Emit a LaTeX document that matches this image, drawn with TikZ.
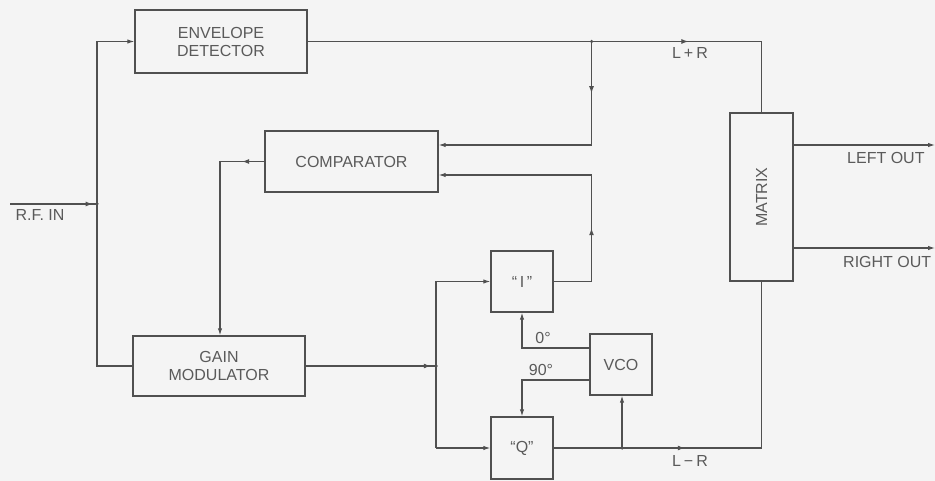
\documentclass[tikz,border=0pt]{standalone}
\usepackage{fontspec}
\setmainfont{Liberation Sans}
\usetikzlibrary{arrows.meta,decorations.markings}
\definecolor{bg}{HTML}{F4F4F4}
\definecolor{ln}{HTML}{505050}
\definecolor{tx}{HTML}{5A5A5A}
\begin{document}
\begin{tikzpicture}[x=1pt,y=-1pt,
  wire/.style={draw=ln,line width=1.1pt},
  tip/.style={-{Latex[length=7pt,width=4.5pt]}},
  blk/.style={draw=ln,line width=1.4pt,inner sep=0pt,text=tx,font=\fontsize{16}{18}\selectfont,align=center},
  lbl/.style={text=tx,font=\fontsize{16}{18}\selectfont,inner sep=0pt},
  midarr/.style={postaction={decorate},decoration={markings,mark=at position #1 with {\arrow{Latex[length=7pt,width=5pt]}}}},
  dot/.style={circle,fill=ln,inner sep=0pt,minimum size=3.5pt}
]
\useasboundingbox (0,0) rectangle (935,481);
\fill[bg] (0,0) rectangle (935,481);

% blocks
\node[blk,minimum width=172pt,minimum height=63pt] (env) at (221,41.5) {ENVELOPE\\DETECTOR};
\node[blk,minimum width=173pt,minimum height=61pt] (comp) at (351.5,161.5) {COMPARATOR};
\node[blk,minimum width=172pt,minimum height=60pt] (gain) at (219,366) {GAIN\\MODULATOR};
\node[blk,minimum width=62pt,minimum height=61pt] (I) at (522,281.5) {“\,I\,”};
\node[blk,minimum width=62pt,minimum height=62pt] (Q) at (522,448) {“Q”};
\node[blk,minimum width=62pt,minimum height=61pt] (vco) at (621,364.5) {VCO};
\node[blk,minimum width=63pt,minimum height=168pt] (mat) at (761.5,197) {};
\node[lbl,rotate=90] (matl) at (mat.center) {MATRIX};

% RF input
\coordinate (rf) at (10,204);
\coordinate (ja) at (97,204);
\coordinate (jt) at (97,41.5);
\coordinate (jb) at (97,366);
\draw[wire,midarr=0.95] (rf) -- (ja);
\draw[wire,tip] (ja) -- (jt) -- (env.west);
\draw[wire] (ja) -- (jb) -- (gain.west);
\node[dot] (dA) at (ja) {};
\node[lbl] (rfl) at (40,215) {R.F. IN};

% comparator -> gain modulator
\coordinate (cg) at (220,161.5);
\draw[wire,midarr=0.5] (comp.west) -- (cg);
\draw[wire,tip] (cg) -- (cg |- gain.north);

% envelope detector output (L+R)
\coordinate (j1) at (591.5,41.5);
\coordinate (k1) at (761.5,41.5);
\draw[wire] (env.east) -- (j1);
\draw[wire,midarr=0.57] (j1) -- (k1);
\draw[wire] (k1) -- (mat.north);
\node[dot] (dB) at (j1) {};
\node[lbl] (lpr) at (690,53) {L\hspace{3pt}+\hspace{3pt}R};
\coordinate (c1) at (591.5,145);
\draw[wire,midarr=0.5] (j1) -- (c1);
\draw[wire,tip] (c1) -- (c1 -| comp.east);

% I output -> comparator
\coordinate (c2) at (591.5,281.5);
\coordinate (c3) at (591.5,175);
\draw[wire] (I.east) -- (c2);
\draw[wire,midarr=0.5] (c2) -- (c3);
\draw[wire,tip] (c3) -- (c3 -| comp.east);

% gain modulator output -> I, Q
\coordinate (j2) at (436,366);
\coordinate (ji) at (436,281.5);
\coordinate (jq) at (436,448);
\draw[wire,midarr=0.96] (gain.east) -- (j2);
\draw[wire] (ji) -- (jq);
\draw[wire,tip] (ji) -- (I.west);
\draw[wire,tip] (jq) -- (Q.west);
\node[dot] (dC) at (j2) {};

% VCO -> I, Q
\coordinate (v0) at (522,348);
\coordinate (v9) at (522,380);
\draw[wire,tip] (vco.west |- v0) -- (v0) -- (I.south);
\draw[wire,tip] (vco.west |- v9) -- (v9) -- (Q.north);
\node[lbl] (l0) at (543,338) {0°};
\node[lbl] (l9) at (541,370) {90°};

% Q output (L-R)
\coordinate (j3) at (622,448);
\coordinate (k3) at (761.5,448);
\draw[wire] (Q.east) -- (j3);
\draw[wire,midarr=0.45] (j3) -- (k3);
\draw[wire] (k3) -- (mat.south);
\draw[wire,tip] (j3) -- (j3 |- vco.south);
\node[dot] (dD) at (j3) {};
\node[lbl] (lmr) at (690,461) {L\hspace{3pt}−\hspace{3pt}R};

% outputs
\coordinate (lo) at (935,145);
\coordinate (ro) at (935,248);
\draw[wire,tip] (mat.east |- lo) -- (lo);
\draw[wire,tip] (mat.east |- ro) -- (ro);
\node[lbl,anchor=west] (lol) at (847,158) {LEFT OUT};
\node[lbl,anchor=west] (rol) at (843,262) {RIGHT OUT};
\end{tikzpicture}
\end{document}
